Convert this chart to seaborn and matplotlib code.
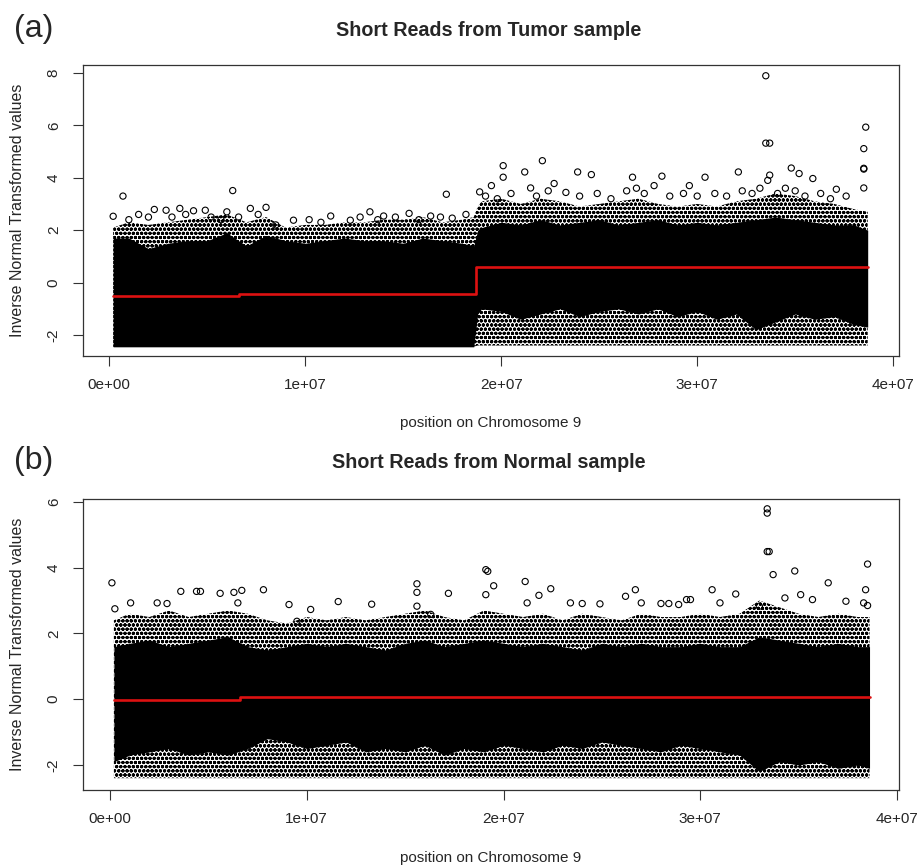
import numpy as np
import matplotlib
matplotlib.use("Agg")
import matplotlib.pyplot as plt
import seaborn as sns

# ---- data (positions in Mb) ----
# tumor sample: dense band of points (solid core + circle fringe)
a_x = [0.2, 1, 2, 3, 4, 5, 6, 7, 8, 9, 10, 11, 12, 13, 14, 15, 16, 17, 18, 18.6,
       18.8, 19, 20, 21, 22, 23, 24, 25, 26, 27, 28, 29, 30, 31, 32, 33, 34, 35, 36, 37, 38, 38.7]
a_solid_hi = [1.7, 1.7, 1.3, 1.5, 1.6, 1.6, 1.9, 1.4, 1.8, 1.6, 1.5, 1.6, 1.7, 1.6, 1.6, 1.5, 1.7, 1.6, 1.5, 1.4,
              2.0, 2.1, 2.3, 2.2, 2.4, 2.2, 2.3, 2.4, 2.2, 2.3, 2.4, 2.2, 2.3, 2.2, 2.3, 2.4, 2.5, 2.4, 2.3, 2.2, 2.2, 2.0]
a_fringe_hi = [2.1, 2.3, 2.2, 2.3, 2.4, 2.5, 2.6, 2.3, 2.5, 2.1, 2.2, 2.2, 2.3, 2.3, 2.4, 2.4, 2.5, 2.3, 2.4, 2.5,
               2.9, 3.1, 3.2, 3.0, 3.2, 3.1, 2.9, 3.0, 3.1, 3.2, 3.0, 2.9, 3.0, 2.9, 3.1, 3.2, 3.4, 3.3, 3.1, 3.0, 2.8, 2.7]
a_solid_lo = [-2.45] * 20 + [-1.2, -1.0, -1.1, -1.4, -1.2, -1.0, -1.3, -1.1, -1.0, -1.2, -1.0, -1.3, -1.1, -1.4,
                             -1.2, -1.8, -1.5, -1.2, -1.4, -1.3, -1.6, -1.7]
a_fringe_lo = [-2.45] * 20 + [-2.4] * 22

# tumor sample: isolated points
a_out_x = [0.7, 6.3, 17.2, 0.2, 2.3, 2.9, 3.6, 4.3, 4.9, 7.2, 8.0, 9.4, 11.3, 12.3, 13.3, 14.0, 15.3, 16.4, 17.5,
           1.0, 1.5, 2.0, 3.2, 3.9, 5.2, 5.7, 6.0, 6.6, 7.6, 8.5, 10.2, 10.8, 12.8, 13.7, 14.6, 15.8, 16.9, 18.2,
           33.5, 33.5, 33.7, 38.6, 38.5, 38.5, 38.5, 38.5, 22.1, 20.1, 20.1, 21.2, 23.9, 24.6, 26.7, 28.2, 30.4,
           32.1, 34.8, 35.2, 35.9, 37.1, 33.7, 29.6, 27.8, 19.5, 18.9, 21.5, 22.7, 23.3,
           19.2, 19.8, 20.5, 21.8, 22.4, 24.0, 24.9, 25.6, 26.4, 26.9, 27.3, 28.6, 29.3, 30.0, 30.9, 31.5, 32.3,
           32.8, 33.2, 33.6, 34.1, 34.5, 35.0, 35.5, 36.3, 36.8, 37.6]
a_out_y = [3.30, 3.51, 3.37, 2.53, 2.79, 2.76, 2.83, 2.74, 2.76, 2.83, 2.87, 2.38, 2.54, 2.38, 2.70, 2.54, 2.64, 2.54, 2.46,
           2.4, 2.6, 2.5, 2.5, 2.6, 2.5, 2.4, 2.7, 2.5, 2.6, 2.2, 2.4, 2.3, 2.5, 2.4, 2.5, 2.4, 2.5, 2.6,
           7.89, 5.32, 5.32, 5.93, 5.11, 4.33, 4.36, 3.61, 4.65, 4.46, 4.02, 4.22, 4.22, 4.12, 4.02, 4.06, 4.02,
           4.22, 4.37, 4.16, 3.97, 3.56, 4.10, 3.70, 3.70, 3.70, 3.46, 3.61, 3.78, 3.44,
           3.3, 3.2, 3.4, 3.3, 3.5, 3.3, 3.4, 3.2, 3.5, 3.6, 3.4, 3.3, 3.4, 3.3, 3.4, 3.3, 3.5,
           3.4, 3.6, 3.9, 3.4, 3.6, 3.5, 3.3, 3.4, 3.2, 3.3]

# tumor segment means (red line)
a_seg_x = [0.2, 6.6, 18.7, 38.7]
a_seg_y = [-0.506, -0.43, 0.585, 0.585]

# normal sample: dense band
b_x = [0.2] + list(range(1, 39)) + [38.6]
b_solid_hi = [1.6, 1.7, 1.8, 1.6, 1.7, 1.8, 1.9, 1.6, 1.5, 1.6, 1.7, 1.6, 1.7, 1.6, 1.5, 1.7, 1.8, 1.6, 1.7, 1.8,
              1.7, 1.6, 1.7, 1.6, 1.5, 1.7, 1.6, 1.7, 1.6, 1.6, 1.7, 1.6, 1.6, 1.9, 1.8, 1.7, 1.6, 1.7, 1.6, 1.6]
b_fringe_hi = [2.4, 2.6, 2.5, 2.7, 2.5, 2.6, 2.7, 2.6, 2.4, 2.3, 2.5, 2.4, 2.5, 2.4, 2.5, 2.6, 2.7, 2.5, 2.4, 2.7,
               2.6, 2.5, 2.6, 2.4, 2.6, 2.5, 2.4, 2.6, 2.5, 2.5, 2.6, 2.5, 2.6, 3.0, 2.8, 2.6, 2.5, 2.6, 2.5, 2.5]
b_solid_lo = [-1.9, -1.7, -1.6, -1.5, -1.7, -1.6, -1.7, -1.5, -1.2, -1.3, -1.5, -1.4, -1.3, -1.6, -1.5, -1.6, -1.4,
              -1.7, -1.5, -1.6, -1.4, -1.5, -1.6, -1.4, -1.5, -1.3, -1.4, -1.5, -1.6, -1.4, -1.5, -1.6, -1.7, -2.2,
              -1.9, -2.0, -1.9, -2.1, -2.0, -2.1]
b_fringe_lo = [-2.4] * 40

# normal sample: isolated points
b_out_x = [0.1, 0.25, 1.05, 3.6, 4.4, 4.6, 5.6, 6.3, 6.7, 7.8, 2.9, 2.4, 6.5, 9.1, 11.6, 13.3, 15.6, 15.6, 17.2,
           15.6, 10.2, 16.3, 9.5,
           33.4, 33.4, 33.4, 33.5, 33.7, 34.8, 38.5, 38.4, 36.5, 19.1, 19.2, 19.5, 19.1, 21.1, 22.4, 26.7, 30.6,
           31.8, 29.3, 29.5, 35.1, 37.4, 21.8, 26.2, 24.9, 23.4, 24.0, 21.2, 33.0, 38.3, 38.5, 35.7, 27.0, 28.0,
           28.4, 28.9, 31.0, 34.3]
b_out_y = [3.54, 2.75, 2.93, 3.28, 3.28, 3.28, 3.22, 3.25, 3.31, 3.33, 2.91, 2.93, 2.93, 2.88, 2.97, 2.89, 3.51, 3.25, 3.22,
           2.83, 2.73, 2.58, 2.37,
           5.79, 5.66, 4.49, 4.49, 3.79, 3.90, 4.11, 3.33, 3.54, 3.94, 3.89, 3.45, 3.18, 3.58, 3.36, 3.33, 3.33,
           3.20, 3.03, 3.03, 3.18, 2.98, 3.16, 3.13, 2.90, 2.93, 2.91, 2.93, 2.83, 2.93, 2.85, 3.03, 2.93, 2.91,
           2.91, 2.88, 2.93, 3.08]

b_seg_x = [0.2, 6.6, 38.6]
b_seg_y = [-0.03, 0.07, 0.07]

x_ticks = [0, 1e7, 2e7, 3e7, 4e7]
x_ticklabels = ['0e+00', '1e+07', '2e+07', '3e+07', '4e+07']

sns.set_style('ticks')
plt.rcParams['font.family'] = ['Liberation Sans', 'DejaVu Sans']
plt.rcParams['hatch.linewidth'] = 1.1

fig = plt.figure(figsize=(9.19, 8.67), dpi=100)


def panel(ax, bx, s_lo, s_hi, f_lo, f_hi, ox, oy, sx, sy, yticks, ylim, xlim):
    x = np.array(bx) * 1e6
    # circle fringe around the dense core
    ax.fill_between(x, f_lo, f_hi, facecolor='white', edgecolor='black', hatch='oooo', linewidth=0)
    ax.fill_between(x, s_lo, s_hi, color='black', linewidth=0)
    sns.scatterplot(x=np.array(ox) * 1e6, y=oy, ax=ax, marker='o', s=20,
                    facecolors='none', edgecolor='black', linewidth=0.8)
    sns.lineplot(x=np.array(sx) * 1e6, y=sy, ax=ax, color='#dd1111', lw=1.9,
                 drawstyle='steps-post', estimator=None, sort=False)
    ax.set_xlim(*xlim)
    ax.set_ylim(*ylim)
    ax.set_xticks(x_ticks)
    ax.set_xticklabels(x_ticklabels)
    ax.set_yticks(yticks)
    ax.set_yticklabels([str(v) for v in yticks], rotation=90, va='center')
    ax.tick_params(direction='out', length=7, width=0.8, labelsize=11, pad=9, color='#333333')
    for sp in ax.spines.values():
        sp.set_visible(True)
        sp.set_linewidth(0.9)
        sp.set_color('#333333')
    ax.set_xlabel('')
    ax.set_ylabel('')


ax1 = fig.add_axes([0.0903, 0.5897, 0.888, 0.335])
panel(ax1, a_x, a_solid_lo, a_solid_hi, a_fringe_lo, a_fringe_hi, a_out_x, a_out_y,
      a_seg_x, a_seg_y, [-2, 0, 2, 4, 6, 8], (-2.79, 8.29), (-1.34e6, 4.03e7))

ax2 = fig.add_axes([0.0903, 0.0888, 0.888, 0.3357])
panel(ax2, b_x, b_solid_lo, b_solid_hi, b_fringe_lo, b_fringe_hi, b_out_x, b_out_y,
      b_seg_x, b_seg_y, [-2, 0, 2, 4, 6], (-2.76, 6.09), (-1.37e6, 4.01e7))

fig.text(0.532, 0.965, 'Short Reads from Tumor sample', ha='center', va='center', fontsize=14.2, fontweight='bold')
fig.text(0.532, 0.466, 'Short Reads from Normal sample', ha='center', va='center', fontsize=14.2, fontweight='bold')
fig.text(0.015, 0.967, '(a)', ha='left', va='center', fontsize=23)
fig.text(0.015, 0.468, '(b)', ha='left', va='center', fontsize=23)
fig.text(0.534, 0.512, 'position on Chromosome 9', ha='center', va='center', fontsize=11)
fig.text(0.534, 0.0104, 'position on Chromosome 9', ha='center', va='center', fontsize=11)
fig.text(0.0185, 0.757, 'Inverse Normal Transformed values', ha='center', va='center', rotation=90, fontsize=11.5)
fig.text(0.0185, 0.257, 'Inverse Normal Transformed values', ha='center', va='center', rotation=90, fontsize=11.5)

fig.savefig('out.png', dpi=100)
